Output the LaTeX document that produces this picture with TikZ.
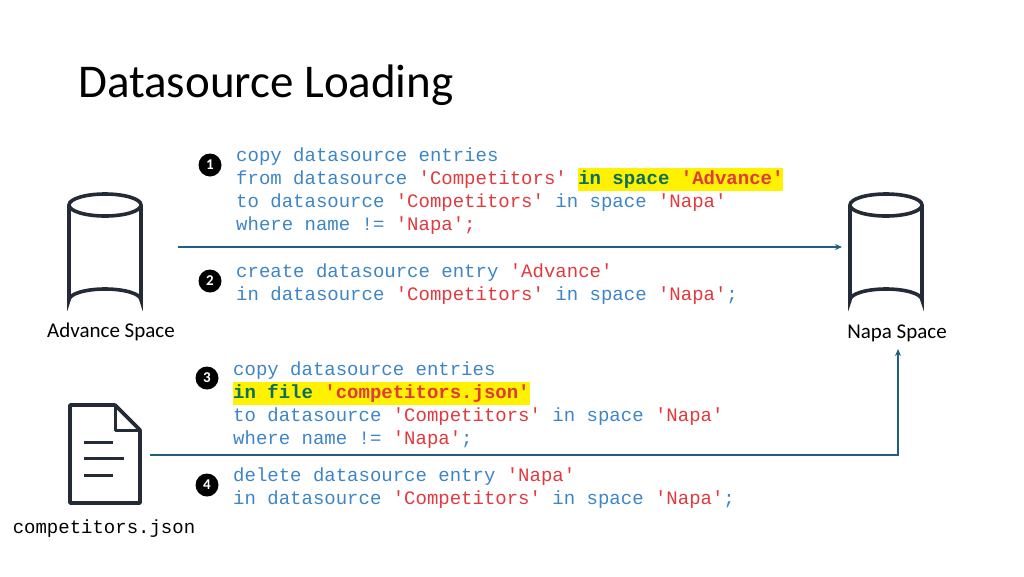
\documentclass[tikz,border=0pt]{standalone}
\usepackage{fontspec}
\setmainfont{Carlito}
\setmonofont{Liberation Mono}
\usetikzlibrary{arrows.meta}
\definecolor{kw}{HTML}{3D85C6}
\definecolor{st}{HTML}{E0393E}
\definecolor{ln}{HTML}{1F5F7F}
\definecolor{hg}{HTML}{0B6E5E}
\definecolor{ic}{HTML}{232B36}
\newcommand{\K}[1]{\textcolor{kw}{#1}}
\newcommand{\Ss}[1]{\textcolor{st}{#1}}
\newcommand{\HL}[1]{{\setlength{\fboxsep}{0pt}\colorbox{yellow}{\strut #1}}}
\begin{document}
\begin{tikzpicture}[x=1pt,y=-1pt,
  code/.style={anchor=west,inner sep=0,font=\ttfamily\fontsize{19}{23}\selectfont,align=left},
  badge/.style={circle,fill=black,text=white,inner sep=0,minimum size=23,font=\bfseries\fontsize{15}{15}\selectfont},
  lbl/.style={font=\fontsize{21}{24}\selectfont},
  conn/.style={draw=ln,line width=1.2,-{Stealth[length=7,width=6]}},
  cyl/.style={draw=ic,line width=3.6}]
\useasboundingbox (0,0) rectangle (1024,576);
\node[anchor=west,inner sep=0,font=\fontsize{47}{47}\selectfont] (title) at (78,85) {Datasource Loading};
% cylinders
\foreach \n/\cx in {adv/105,napa/886}{
  \draw[cyl] (\cx-36,205) -- (\cx-36,300) arc[start angle=180,end angle=360,x radius=36,y radius=11] -- (\cx+36,205);
  \draw[cyl] (\cx,205) ellipse[x radius=36,y radius=11];
  \coordinate (\n) at (\cx,250);
}
\node[lbl] (advl) at (111,332) {Advance Space};
\node[lbl] (napal) at (897,333) {Napa Space};
% document
\draw[cyl,line join=round] (70,405) -- (115,405) -- (140,430) -- (140,503) -- (70,503) -- cycle;
\draw[cyl,line width=3,line join=round] (115,405) -- (115,430) -- (140,430);
\draw[draw=ic,line width=3] (84,442) -- (113,442) (84,458) -- (124,458) (84,475) -- (113,475);
\node[font=\ttfamily\fontsize{19}{22}\selectfont] (json) at (104,529) {competitors.json};
% arrows
\coordinate (a1s) at (178,247);
\coordinate (a1e) at (842,247);
\draw[conn] (a1s) -- (a1e);
\coordinate (a2s) at (150,455);
\coordinate (a2e) at (898,349);
\draw[conn] (a2s) -| (a2e);
% badges
\node[badge] (b1) at (210,165) {1};
\node[badge] (b2) at (210,281) {2};
\node[badge] (b3) at (207,378) {3};
\node[badge] (b4) at (207,485) {4};
% code
\node[code] (c1) at (236,191) {\K{copy datasource entries}\\
\K{from datasource} \Ss{'Competitors'} \HL{\textbf{\textcolor{hg}{in space}} \textbf{\textcolor{st}{'Advance'}}}\\
\K{to datasource} \Ss{'Competitors'} \K{in space} \Ss{'Napa'}\\
\K{where name != }\Ss{'Napa';}};
\node[code] (c2) at (236,284) {\K{create datasource entry} \Ss{'Advance'}\\
\K{in datasource} \Ss{'Competitors'} \K{in space} \Ss{'Napa'}\K{;}};
\node[code] (c3) at (233,405) {\K{copy datasource entries}\\
\HL{\textbf{\textcolor{hg}{in file}} \textbf{\textcolor{st}{'competitors.json'}}}\\
\K{to datasource} \Ss{'Competitors'} \K{in space} \Ss{'Napa'}\\
\K{where name != }\Ss{'Napa'}\K{;}};
\node[code] (c4) at (233,488) {\K{delete datasource entry} \Ss{'Napa'}\\
\K{in datasource} \Ss{'Competitors'} \K{in space} \Ss{'Napa'}\K{;}};
\end{tikzpicture}
\end{document}
